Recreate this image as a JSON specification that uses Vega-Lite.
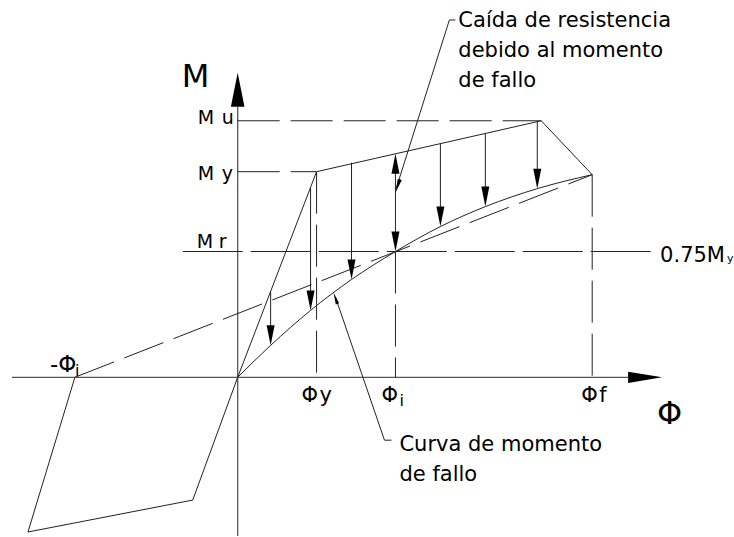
{
  "$schema": "https://vega.github.io/schema/vega-lite/v6.json",
  "width": 734,
  "height": 537,
  "padding": 0,
  "autosize": {"type": "fit", "contains": "padding"},
  "background": "white",
  "config": {"view": {"stroke": null}, "text": {"font": "DejaVu Sans", "color": "black", "align": "left", "baseline": "alphabetic"}},
  "datasets": {
    "axes": [
      {"X": -226, "Y": 0, "X2": 391, "Y2": 0},
      {"X": 0, "Y": -159, "X2": 0, "Y2": 271}
    ],
    "solid": [
      {"X": 0, "Y": 0, "X2": 79, "Y2": 206},
      {"X": 79, "Y": 206, "X2": 304, "Y2": 257},
      {"X": 304, "Y": 257, "X2": 355, "Y2": 203},
      {"X": 0, "Y": 0, "X2": -45, "Y2": -123},
      {"X": -45, "Y": -123, "X2": -210, "Y2": -155},
      {"X": -210, "Y": -155, "X2": -163, "Y2": 0},
      {"X": 33, "Y": 86, "X2": 33, "Y2": 40},
      {"X": 73, "Y": 190, "X2": 73, "Y2": 75},
      {"X": 114, "Y": 215, "X2": 114, "Y2": 106},
      {"X": 158, "Y": 216, "X2": 158, "Y2": 134},
      {"X": 203, "Y": 234, "X2": 203, "Y2": 159},
      {"X": 248, "Y": 244, "X2": 248, "Y2": 179},
      {"X": 300, "Y": 256, "X2": 300, "Y2": 197},
      {"X": 218, "Y": 358, "X2": 212, "Y2": 358},
      {"X": 212, "Y": 358, "X2": 159, "Y2": 190},
      {"X": 154, "Y": -63, "X2": 147, "Y2": -63},
      {"X": 147, "Y": -63, "X2": 98, "Y2": 80}
    ],
    "dashed": [
      {"X": 0, "Y": 257, "X2": 304, "Y2": 257},
      {"X": 0, "Y": 206, "X2": 79, "Y2": 206},
      {"X": 79, "Y": 206, "X2": 79, "Y2": 0},
      {"X": 158, "Y": 126, "X2": 158, "Y2": 0},
      {"X": 355, "Y": 203, "X2": 355, "Y2": 0},
      {"X": -163, "Y": 0, "X2": 355, "Y2": 203}
    ],
    "centre": [
      {"X": -55, "Y": 126, "X2": 414, "Y2": 126}
    ],
    "curve": [
      {"ord": 0, "X": 0, "Y": 0},
      {"ord": 1, "X": 33, "Y": 32},
      {"ord": 2, "X": 73, "Y": 67},
      {"ord": 3, "X": 114, "Y": 98},
      {"ord": 4, "X": 158, "Y": 126},
      {"ord": 5, "X": 203, "Y": 151},
      {"ord": 6, "X": 248, "Y": 171},
      {"ord": 7, "X": 300, "Y": 189},
      {"ord": 8, "X": 355, "Y": 203}
    ],
    "headsDown": [
      {"X": 33, "Y": 32},
      {"X": 73, "Y": 67},
      {"X": 114, "Y": 98},
      {"X": 158, "Y": 126},
      {"X": 203, "Y": 151},
      {"X": 248, "Y": 171},
      {"X": 300, "Y": 189}
    ],
    "headsUp": [{"X": 158, "Y": 224}],
    "axisUp": [{"X": 0, "Y": 305}],
    "axisRight": [{"X": 425, "Y": 0}],
    "leaderTop": [{"X": 158, "Y": 185}],
    "leaderBottom": [{"X": 96, "Y": 85}],
    "labels": [
      {"grp": "big", "t": "M", "X": -56, "Y": 291},
      {"grp": "big", "t": "Φ", "X": 420, "Y": -47},
      {"grp": "m", "t": "M", "X": -40, "Y": 254},
      {"grp": "m", "t": "u", "X": -16, "Y": 254},
      {"grp": "m", "t": "M", "X": -40, "Y": 198},
      {"grp": "m", "t": "y", "X": -16, "Y": 198},
      {"grp": "m", "t": "M", "X": -41, "Y": 130},
      {"grp": "m", "t": "r", "X": -19, "Y": 130},
      {"grp": "txt", "t": "Φ", "X": 64, "Y": -25},
      {"grp": "txt", "t": "y", "X": 82, "Y": -25},
      {"grp": "txt", "t": "Φ", "X": 144, "Y": -25},
      {"grp": "txt", "t": "Φ", "X": 344, "Y": -25},
      {"grp": "txt", "t": "f", "X": 362, "Y": -25},
      {"grp": "txt", "t": "0.75M", "X": 423, "Y": 116},
      {"grp": "txt", "t": "Caída de resistencia", "X": 221, "Y": 351},
      {"grp": "txt", "t": "debido al momento", "X": 221, "Y": 321},
      {"grp": "txt", "t": "de fallo", "X": 221, "Y": 291},
      {"grp": "txt", "t": "Curva de momento", "X": 162, "Y": -74},
      {"grp": "txt", "t": "de fallo", "X": 162, "Y": -104},
      {"grp": "neg", "t": "-Φ", "X": -188, "Y": 5},
      {"grp": "sub", "t": "i", "X": 162, "Y": -29},
      {"grp": "sub", "t": "i", "X": -163, "Y": 1},
      {"grp": "tiny", "t": "y", "X": 490, "Y": 116}
    ]
  },
  "encoding": {
    "x": {"field": "X", "type": "quantitative", "axis": null, "scale": {"domain": [-238, 496], "nice": false, "zero": false}},
    "y": {"field": "Y", "type": "quantitative", "axis": null, "scale": {"domain": [-159, 378], "nice": false, "zero": false}}
  },
  "layer": [
    {
      "data": {"name": "axes"},
      "mark": {"type": "rule", "color": "#555555", "strokeWidth": 1.3},
      "encoding": {"x2": {"field": "X2"}, "y2": {"field": "Y2"}}
    },
    {
      "data": {"name": "centre"},
      "mark": {"type": "rule", "color": "#222222", "strokeWidth": 1, "strokeDash": [60, 8]},
      "encoding": {"x2": {"field": "X2"}, "y2": {"field": "Y2"}}
    },
    {
      "data": {"name": "dashed"},
      "mark": {"type": "rule", "color": "#222222", "strokeWidth": 1, "strokeDash": [42, 11]},
      "encoding": {"x2": {"field": "X2"}, "y2": {"field": "Y2"}}
    },
    {
      "data": {"name": "solid"},
      "mark": {"type": "rule", "color": "#222222", "strokeWidth": 1},
      "encoding": {"x2": {"field": "X2"}, "y2": {"field": "Y2"}}
    },
    {
      "data": {"name": "curve"},
      "mark": {"type": "line", "color": "#222222", "strokeWidth": 1, "interpolate": "monotone"},
      "encoding": {"order": {"field": "ord", "type": "quantitative"}}
    },
    {
      "data": {"name": "headsDown"},
      "mark": {"type": "point", "shape": "M0,0L-0.4,-2L0.4,-2Z", "size": 400, "filled": true, "color": "black", "opacity": 1, "strokeWidth": 0}
    },
    {
      "data": {"name": "headsUp"},
      "mark": {"type": "point", "shape": "M0,0L-0.4,-2L0.4,-2Z", "size": 400, "angle": 180, "filled": true, "color": "black", "opacity": 1, "strokeWidth": 0}
    },
    {
      "data": {"name": "axisUp"},
      "mark": {"type": "point", "shape": "M0,0L-0.4,-2L0.4,-2Z", "size": 1156, "angle": 180, "filled": true, "color": "black", "opacity": 1, "strokeWidth": 0}
    },
    {
      "data": {"name": "axisRight"},
      "mark": {"type": "point", "shape": "M0,0L-0.33,-2L0.33,-2Z", "size": 1156, "angle": -90, "filled": true, "color": "black", "opacity": 1, "strokeWidth": 0}
    },
    {
      "data": {"name": "leaderTop"},
      "mark": {"type": "point", "shape": "M0,0L-0.3,-2L0.3,-2Z", "size": 196, "angle": 18, "filled": true, "color": "black", "opacity": 1, "strokeWidth": 0}
    },
    {
      "data": {"name": "leaderBottom"},
      "mark": {"type": "point", "shape": "M0,0L-0.3,-2L0.3,-2Z", "size": 144, "angle": 161, "filled": true, "color": "black", "opacity": 1, "strokeWidth": 0}
    },
    {
      "data": {"name": "labels"},
      "transform": [{"filter": "datum.grp === 'big'"}],
      "mark": {"type": "text", "fontSize": 32},
      "encoding": {"text": {"field": "t"}}
    },
    {
      "data": {"name": "labels"},
      "transform": [{"filter": "datum.grp === 'm'"}],
      "mark": {"type": "text", "fontSize": 19},
      "encoding": {"text": {"field": "t"}}
    },
    {
      "data": {"name": "labels"},
      "transform": [{"filter": "datum.grp === 'txt'"}],
      "mark": {"type": "text", "fontSize": 21},
      "encoding": {"text": {"field": "t"}}
    },
    {
      "data": {"name": "labels"},
      "transform": [{"filter": "datum.grp === 'neg'"}],
      "mark": {"type": "text", "fontSize": 23},
      "encoding": {"text": {"field": "t"}}
    },
    {
      "data": {"name": "labels"},
      "transform": [{"filter": "datum.grp === 'sub'"}],
      "mark": {"type": "text", "fontSize": 16},
      "encoding": {"text": {"field": "t"}}
    },
    {
      "data": {"name": "labels"},
      "transform": [{"filter": "datum.grp === 'tiny'"}],
      "mark": {"type": "text", "fontSize": 11},
      "encoding": {"text": {"field": "t"}}
    }
  ]
}
